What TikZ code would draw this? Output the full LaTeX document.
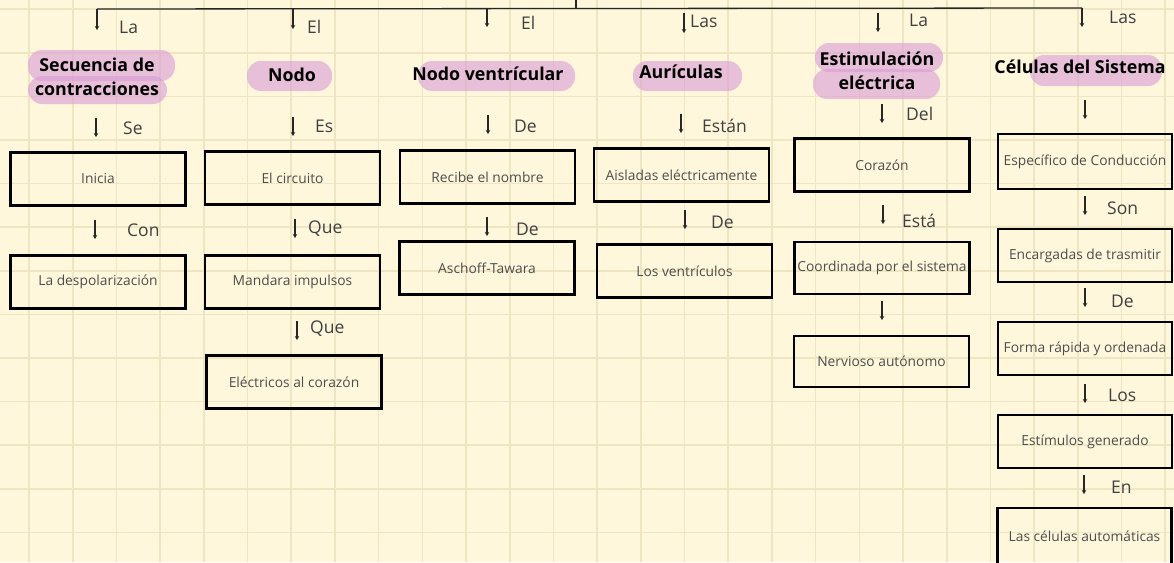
\documentclass[tikz,border=0pt]{standalone}
\usepackage{fontspec}
\setmainfont{Open Sans}
\usetikzlibrary{arrows.meta}
\definecolor{bg}{HTML}{FEF7DC}
\definecolor{gridc}{HTML}{EFE5C3}
\definecolor{hl}{HTML}{D99BD6}
\definecolor{txt}{HTML}{4D4D4D}
\definecolor{labc}{HTML}{404040}
\begin{document}
\begin{tikzpicture}[x=1pt,y=-1pt,
  box/.style={draw=black, line width=2.7pt, minimum width=175pt, minimum height=53pt, inner sep=0pt, text=txt, font=\fontsize{13.8}{16}\selectfont},
  head/.style={font=\bfseries\fontsize{17.8}{24.5}\selectfont, text=black, align=center, inner sep=0pt},
  lab/.style={font=\fontsize{17.5}{20}\selectfont, text=labc, anchor=west, inner sep=0pt},
  arr/.style={line width=1.3pt, draw=black!85, -{Stealth[length=4pt,width=4.5pt]}},
  bus/.style={line width=1.3pt, draw=black!85},
  hlt/.style={fill=hl, fill opacity=0.6, draw=none, rounded corners=14pt}
]
\useasboundingbox (0,0) rectangle (1174,562);
\fill[bg] (0,0) rectangle (1174,562);
\foreach \k in {-1,...,26} \draw[gridc, line width=1.6pt] (29+43.7*\k,0) -- (29+43.7*\k,562);
\foreach \k in {-2,...,12} \draw[gridc, line width=1.6pt] (0,52.8+43.6*\k) -- (1174,52.8+43.6*\k);

% highlights
\fill[hlt] (28,50) rectangle (175,81);
\fill[hlt] (28,76) rectangle (167,104);
\fill[hlt] (247,61) rectangle (332,91);
\fill[hlt] (418,61) rectangle (575,91);
\fill[hlt] (633,61) rectangle (742,91);
\fill[hlt] (815,43) rectangle (943,72);
\fill[hlt] (813,69) rectangle (940,99);
\fill[hlt] (1030,55) rectangle (1162,86);

% headings
\node[head] (h1) at (97,77) {Secuencia de\\contracciones};
\node[head] (h2) at (292,75) {Nodo};
\node[head] (h3) at (488,74) {Nodo ventrícular};
\node[head] (h4) at (681,72) {Aurículas};
\node[head] (h5) at (877,71) {Estimulación\\eléctrica};
\node[head] (h6) at (1080,67) {Células del Sistema};

% boxes
\node[box] (b11) at (98,179) {Inicia};
\node[box] (b12) at (98,282) {La despolarización};
\node[box] (b21) at (292.5,178) {El circuito};
\node[box] (b22) at (292.5,282) {Mandara impulsos};
\node[box] (b23) at (294,382) {Eléctricos al corazón};
\node[box] (b31) at (487.5,177) {Recibe el nombre};
\node[box] (b32) at (487,268) {Aschoff-Tawara};
\node[box] (b41) at (681.5,175) {Aisladas eléctricamente};
\node[box] (b42) at (684.5,271) {Los ventrículos};
\node[box] (b51) at (882,165) {Corazón};
\node[box, minimum height=52pt] (b52) at (882,268) {Coordinada por el sistema};
\node[box, minimum height=51pt] (b53) at (881.5,361.5) {Nervioso autónomo};
\node[box, minimum width=174pt, minimum height=55pt] (b61) at (1085,161.5) {Específico de Conducción};
\node[box, minimum width=174pt] (b62) at (1085,255.5) {Encargadas de trasmitir};
\node[box, minimum width=174pt] (b63) at (1085,348.5) {Forma rápida y ordenada};
\node[box, minimum width=174pt] (b64) at (1085,441.5) {Estímulos generado};
\node[box, minimum width=174pt, minimum height=56pt] (b65) at (1084.5,536) {Las células automáticas};

% top bus
\coordinate (root) at (576,0);
\coordinate (j) at (576,9);
\coordinate (c1) at (97,9);
\coordinate (c2) at (293,9);
\coordinate (c3) at (487,9);
\coordinate (c6) at (1082,8);
\draw[bus] (root) -- (j);
\draw[bus] (c1) -- (c6);
\coordinate (e1) at (97,30);
\coordinate (e2) at (293,29);
\coordinate (e3) at (487,27);
\coordinate (e6) at (1082,27);
\draw[arr] (c1) -- (e1);
\draw[arr] (c2) -- (e2);
\draw[arr] (c3) -- (e3);
\draw[arr] (c6) -- (e6);
\coordinate (s4) at (684,13); \coordinate (e4) at (684,33);
\coordinate (s5) at (878,13); \coordinate (e5) at (878,32);
\draw[arr] (s4) -- (e4);
\draw[arr] (s5) -- (e5);
\node[lab] (l1) at (119,27) {La};
\node[lab] (l2) at (307,27) {El};
\node[lab] (l3) at (521,23) {El};
\node[lab] (l4) at (690,21) {Las};
\node[lab] (l5) at (909,20) {La};
\node[lab] (l6) at (1109,17) {Las};

% column arrows
\newcommand{\myarr}[4]{%
  \coordinate (#1a) at (#2,#3);
  \coordinate (#1b) at (#2,#3+19);
  \draw[arr] (#1a) -- (#1b);}
\myarr{a11}{96}{118}{} \node[lab] at (123,128) {Se};
\myarr{a12}{95}{220}{} \node[lab] at (127,230) {Con};
\myarr{a21}{293}{117}{} \node[lab] at (315,126) {Es};
\myarr{a22}{295}{219}{} \node[lab] at (308,229) {Que};
\myarr{a23}{297}{321}{} \node[lab] at (310,329) {Que};
\myarr{a31}{488}{115}{} \node[lab] at (514,126) {De};
\myarr{a32}{487}{217}{} \node[lab] at (516,229) {De};
\myarr{a41}{681}{114}{} \node[lab] at (702,126) {Están};
\myarr{a42}{685}{210}{} \node[lab] at (711,222) {De};
\myarr{a51}{882}{104}{} \node[lab] at (906,114) {Del};
\myarr{a52}{883}{205}{} \node[lab] at (902,221) {Está};
\myarr{a53}{882}{301}{}
\myarr{a61}{1085}{100}{}
\myarr{a62}{1085}{196}{} \node[lab] at (1107,208) {Son};
\myarr{a63}{1085}{288}{} \node[lab] at (1111,301) {De};
\myarr{a64}{1085}{384}{} \node[lab] at (1108,395) {Los};
\myarr{a65}{1084}{475}{} \node[lab] at (1111,487) {En};
\end{tikzpicture}
\end{document}
